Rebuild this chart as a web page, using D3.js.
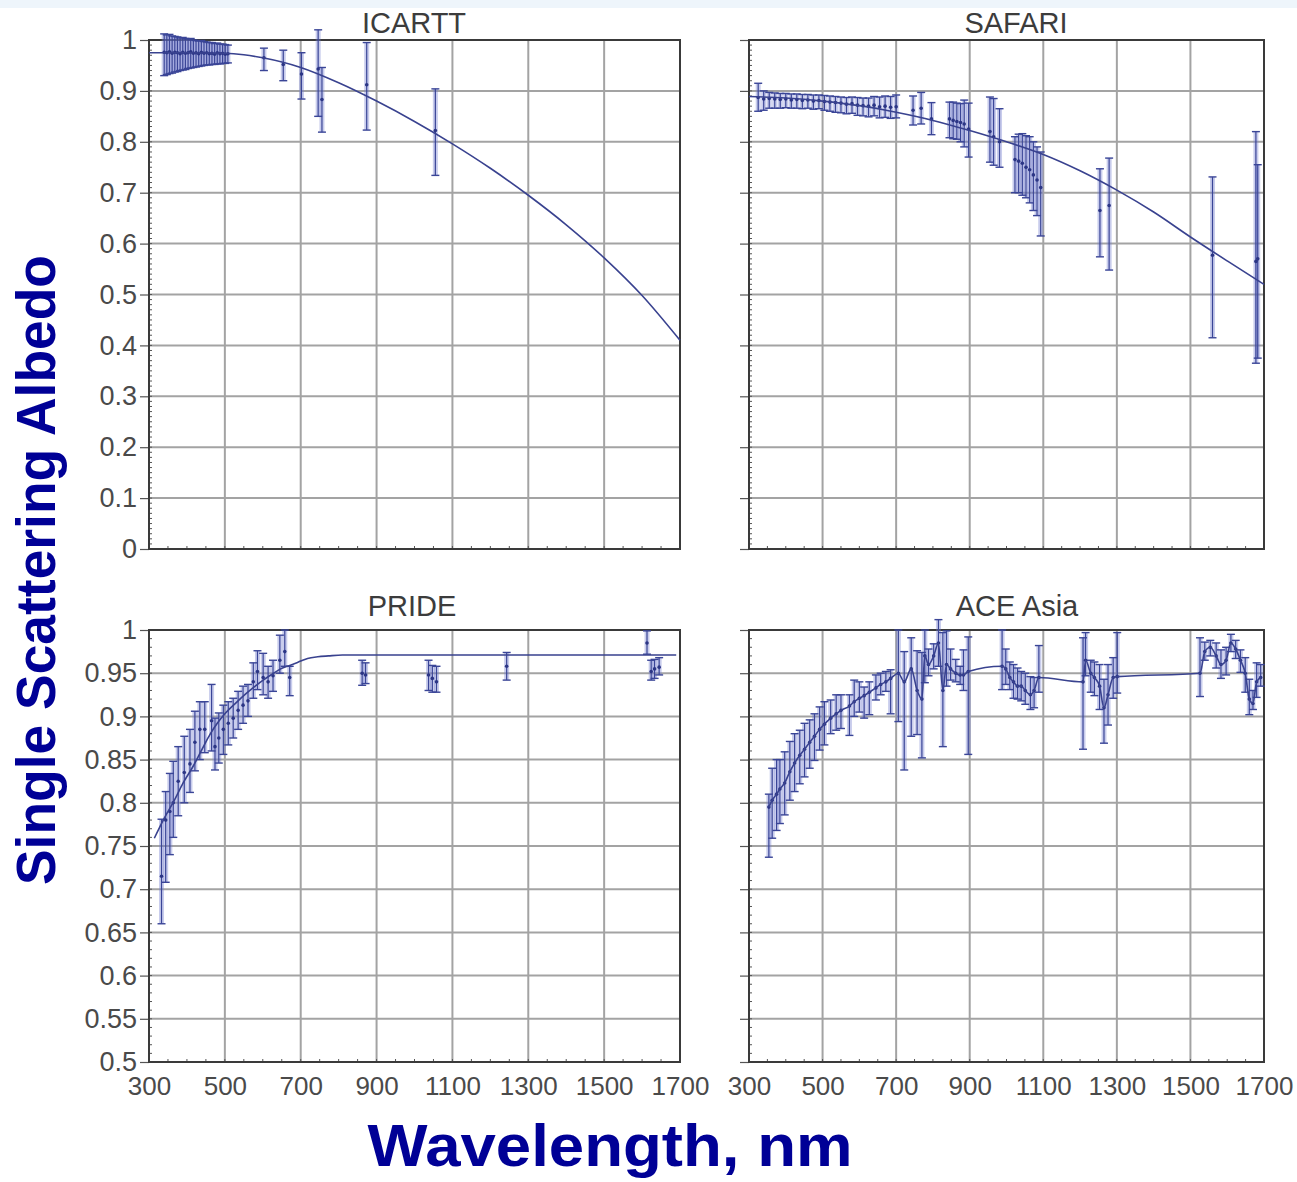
<!DOCTYPE html>
<html><head><meta charset="utf-8">
<script src="https://cdn.jsdelivr.net/npm/d3@7"></script>
<style>
body{margin:0;background:#fff}
text{font-family:"Liberation Sans",Arial,Helvetica,sans-serif}
</style>
</head><body>
<svg id="chart" width="1297" height="1182"></svg>
<script>
// ---------------- DATA ----------------
const xTickValues = [300,500,700,900,1100,1300,1500,1700];
const yTicksTop = [0,0.1,0.2,0.3,0.4,0.5,0.6,0.7,0.8,0.9,1];
const yTicksBottom = [0.5,0.55,0.6,0.65,0.7,0.75,0.8,0.85,0.9,0.95,1];
const panelTitles = ["ICARTT","SAFARI","PRIDE","ACE Asia"];

// ICARTT
const icarttWl  = [340,347,354,361,368,375,382,389,396,403,410,417,424,431,438,445,452,459,466,473,480,487,494,501,508,603,654,702,746,756,874,1055];
const icarttVal = [0.976,0.975,0.977,0.974,0.976,0.975,0.973,0.976,0.974,0.975,0.977,0.974,0.975,0.973,0.976,0.974,0.975,0.973,0.974,0.972,0.975,0.973,0.974,0.972,0.973,0.965,0.952,0.933,0.943,0.883,0.912,0.822];
const icarttLo  = [0.930,0.932,0.934,0.935,0.937,0.938,0.940,0.941,0.942,0.944,0.945,0.946,0.947,0.948,0.949,0.950,0.951,0.951,0.952,0.952,0.953,0.953,0.954,0.954,0.955,0.940,0.920,0.884,0.850,0.819,0.823,0.734];
const icarttHi  = [1.012,1.010,1.011,1.008,1.007,1.006,1.004,1.005,1.003,1.002,1.003,1.000,0.999,0.998,0.999,0.997,0.996,0.995,0.995,0.993,0.994,0.992,0.992,0.991,0.990,0.984,0.980,0.975,1.020,0.946,0.995,0.904];
const icarttFitWl  = [300,400,500,550,600,700,800,900,1000,1100,1200,1300,1400,1500,1600,1700];
const icarttFitVal = [0.975,0.975,0.974,0.971,0.965,0.946,0.916,0.880,0.840,0.796,0.748,0.695,0.637,0.572,0.498,0.41];

// SAFARI
const safariWl  = [325,340,355,370,385,400,415,430,445,460,475,490,505,520,535,550,565,580,595,610,625,640,655,670,685,700,746,768,796,845,855,865,875,885,897,955,965,981,1023,1033,1043,1053,1063,1073,1083,1093,1254,1279,1560,1678,1683];
const safariVal = [0.887,0.884,0.885,0.884,0.883,0.884,0.882,0.883,0.881,0.882,0.880,0.881,0.879,0.878,0.877,0.876,0.874,0.875,0.872,0.871,0.870,0.872,0.869,0.870,0.868,0.869,0.862,0.866,0.845,0.845,0.842,0.840,0.838,0.835,0.825,0.820,0.810,0.800,0.765,0.762,0.758,0.750,0.745,0.735,0.725,0.710,0.665,0.675,0.577,0.565,0.570];
const safariLo  = [0.860,0.862,0.866,0.866,0.866,0.867,0.866,0.866,0.865,0.866,0.864,0.865,0.862,0.860,0.858,0.857,0.855,0.856,0.852,0.851,0.849,0.851,0.847,0.848,0.846,0.847,0.833,0.835,0.814,0.808,0.806,0.805,0.800,0.790,0.770,0.760,0.754,0.750,0.700,0.700,0.695,0.690,0.680,0.665,0.655,0.615,0.574,0.548,0.415,0.365,0.375];
const safariHi  = [0.915,0.900,0.897,0.896,0.895,0.895,0.894,0.894,0.893,0.893,0.892,0.892,0.891,0.890,0.889,0.888,0.887,0.888,0.887,0.886,0.886,0.889,0.888,0.890,0.889,0.892,0.890,0.897,0.877,0.878,0.878,0.876,0.875,0.882,0.876,0.888,0.885,0.865,0.810,0.815,0.816,0.812,0.810,0.800,0.790,0.780,0.747,0.768,0.731,0.820,0.755];
const safariFitWl  = [300,400,500,600,700,800,900,1000,1100,1200,1300,1400,1500,1600,1700];
const safariFitVal = [0.889,0.886,0.880,0.871,0.858,0.842,0.822,0.800,0.775,0.743,0.705,0.662,0.613,0.566,0.520];

// PRIDE
const prideWl  = [333,344,355,364,377,393,408,421,434,447,465,474,484,496,509,522,535,548,561,575,586,601,614,627,645,658,671,862,871,1037,1047,1058,1243,1613,1624,1633,1645];
const prideVal = [0.715,0.780,0.790,0.800,0.825,0.835,0.845,0.870,0.885,0.885,0.895,0.865,0.875,0.885,0.892,0.898,0.907,0.913,0.918,0.940,0.952,0.945,0.940,0.947,0.965,0.975,0.945,0.950,0.948,0.948,0.944,0.940,0.958,0.985,0.952,0.955,0.957];
const prideLo  = [0.660,0.708,0.740,0.760,0.785,0.800,0.812,0.837,0.850,0.858,0.860,0.838,0.846,0.856,0.867,0.875,0.885,0.892,0.900,0.921,0.931,0.925,0.921,0.929,0.950,0.958,0.924,0.936,0.938,0.930,0.928,0.928,0.942,0.972,0.942,0.944,0.948];
const prideHi  = [0.781,0.813,0.834,0.848,0.865,0.877,0.885,0.906,0.917,0.917,0.937,0.898,0.904,0.913,0.917,0.921,0.929,0.935,0.937,0.962,0.976,0.973,0.958,0.965,0.994,1.000,0.958,0.965,0.962,0.965,0.959,0.958,0.974,0.999,0.965,0.966,0.968];
const prideFitWl  = [314,340,367,390,416,440,462,480,500,530,555,580,601,625,647,665,683,700,718,745,773,810,850,1000,1690];
const prideFitVal = [0.759,0.782,0.803,0.823,0.842,0.862,0.880,0.892,0.903,0.916,0.926,0.935,0.942,0.949,0.955,0.958,0.961,0.964,0.967,0.969,0.970,0.971,0.971,0.971,0.971];

// ACE Asia
const aceWl  = [354,363,375,384,397,411,424,438,451,465,478,492,505,522,537,550,573,586,600,613,627,645,658,672,685,706,722,741,757,770,778,788,802,815,827,837,848,862,874,883,896,988,998,1009,1019,1030,1040,1051,1065,1075,1088,1208,1215,1229,1239,1253,1265,1276,1290,1301,1526,1539,1554,1570,1583,1597,1610,1623,1636,1649,1660,1670,1680,1691];
const aceVal = [0.795,0.803,0.810,0.816,0.823,0.836,0.846,0.855,0.862,0.870,0.877,0.885,0.891,0.898,0.903,0.907,0.912,0.917,0.921,0.924,0.928,0.933,0.937,0.940,0.944,0.950,0.940,0.955,0.930,0.920,0.970,0.960,0.970,0.985,0.930,0.960,0.955,0.950,0.948,0.948,0.952,0.958,0.955,0.945,0.940,0.935,0.935,0.930,0.925,0.930,0.945,0.940,0.965,0.950,0.945,0.935,0.910,0.925,0.945,0.946,0.950,0.975,0.980,0.970,0.960,0.965,0.985,0.978,0.965,0.950,0.920,0.915,0.940,0.945];
const aceLo  = [0.737,0.759,0.768,0.776,0.786,0.803,0.813,0.822,0.830,0.840,0.849,0.861,0.867,0.880,0.884,0.886,0.878,0.900,0.905,0.898,0.902,0.919,0.925,0.929,0.903,0.894,0.838,0.877,0.879,0.852,0.939,0.947,0.955,0.958,0.865,0.935,0.942,0.940,0.937,0.930,0.856,0.931,0.937,0.931,0.921,0.920,0.918,0.914,0.908,0.910,0.928,0.862,0.947,0.928,0.924,0.908,0.869,0.890,0.921,0.927,0.923,0.965,0.970,0.956,0.944,0.948,0.975,0.967,0.951,0.928,0.902,0.908,0.922,0.935];
const aceHi  = [0.810,0.840,0.850,0.850,0.859,0.871,0.880,0.884,0.892,0.896,0.903,0.911,0.917,0.919,0.925,0.925,0.925,0.942,0.940,0.934,0.940,0.948,0.950,0.952,0.954,1.000,0.975,0.991,0.976,0.974,1.000,0.978,0.984,1.012,0.997,0.999,0.978,0.966,0.958,0.977,0.992,1.000,0.978,0.963,0.960,0.956,0.952,0.950,0.946,0.945,0.982,0.991,0.997,0.965,0.963,0.960,0.943,0.960,0.968,0.997,0.991,0.986,0.988,0.985,0.977,0.980,0.995,0.988,0.977,0.968,0.943,0.930,0.962,0.960];

// ---------------- LAYOUT ----------------
const svg = d3.select("#chart");
svg.append("rect").attr("x",0).attr("y",0).attr("width",1297).attr("height",8).attr("fill","#eef5fb");

const zip = (wl,v,lo,hi) => wl.map((w,i)=>({w, v:v[i], lo:lo[i], hi:hi[i]}));
const zipFit = (wl,v) => wl.map((w,i)=>({w, v:v[i]}));

const panels = [
  {title:panelTitles[0], tx:414, ty:33, x0:149,x1:680,y0:40,y1:549, dom:[0,1], ticks:yTicksTop, minor:0.01, yLabels:true, xLabels:false,
   data:zip(icarttWl,icarttVal,icarttLo,icarttHi), fit:zipFit(icarttFitWl,icarttFitVal)},
  {title:panelTitles[1], tx:1016, ty:33, x0:749,x1:1264,y0:40,y1:549, dom:[0,1], ticks:yTicksTop, minor:0.01, yLabels:false, xLabels:false,
   data:zip(safariWl,safariVal,safariLo,safariHi), fit:zipFit(safariFitWl,safariFitVal)},
  {title:panelTitles[2], tx:412, ty:616, x0:149,x1:680,y0:630,y1:1062, dom:[0.5,1], ticks:yTicksBottom, minor:0.01, yLabels:true, xLabels:true,
   data:zip(prideWl,prideVal,prideLo,prideHi), fit:zipFit(prideFitWl,prideFitVal)},
  {title:panelTitles[3], tx:1017, ty:616, x0:749,x1:1264,y0:630,y1:1062, dom:[0.5,1], ticks:yTicksBottom, minor:0.01, yLabels:false, xLabels:true,
   data:zip(aceWl,aceVal,aceLo,aceHi), fit:null}
];

const lineColor = "#39428f";
const barColor = "#3a4597";
const shadeColor = "rgba(110,122,205,0.38)";
const fmt = d => String(+d.toFixed(2));

panels.forEach(p => {
  const x = d3.scaleLinear().domain([300,1700]).range([p.x0,p.x1]);
  const y = d3.scaleLinear().domain(p.dom).range([p.y1,p.y0]);
  const g = svg.append("g");

  // grid
  g.append("g").selectAll("line").data(xTickValues).join("line")
    .attr("x1",d=>x(d)).attr("x2",d=>x(d)).attr("y1",p.y0).attr("y2",p.y1)
    .attr("stroke","#a3a3a3").attr("stroke-width",2);
  g.append("g").selectAll("line").data(p.ticks).join("line")
    .attr("x1",p.x0).attr("x2",p.x1).attr("y1",d=>y(d)).attr("y2",d=>y(d))
    .attr("stroke","#a3a3a3").attr("stroke-width",2);

  // minor ticks (inside)
  const minorY = d3.range(p.dom[0], p.dom[1]+1e-9, p.minor);
  g.append("g").selectAll("line").data(minorY).join("line")
    .attr("x1",p.x0).attr("x2",p.x0+3).attr("y1",d=>y(d)).attr("y2",d=>y(d))
    .attr("stroke","#555").attr("stroke-width",1);
  const minorX = d3.range(300,1701,50);
  g.append("g").selectAll("line").data(minorX).join("line")
    .attr("x1",d=>x(d)).attr("x2",d=>x(d)).attr("y1",p.y1).attr("y2",p.y1-3)
    .attr("stroke","#555").attr("stroke-width",1);

  // axes
  const yAxis = d3.axisLeft(y).tickValues(p.ticks).tickSize(9).tickSizeOuter(0).tickPadding(3)
    .tickFormat(p.yLabels ? fmt : "");
  const ya = g.append("g").attr("transform",`translate(${p.x0},0)`).call(yAxis);
  ya.select(".domain").remove();
  ya.selectAll(".tick line").attr("stroke","#555").attr("stroke-width",1.2);
  ya.selectAll(".tick text").attr("font-size",27).attr("fill","#4a4a4a")
    .attr("font-family",'"Liberation Sans",Arial,sans-serif');

  if (p.xLabels) {
    const xAxis = d3.axisBottom(x).tickValues(xTickValues).tickSize(0).tickSizeOuter(0).tickPadding(15).tickFormat(d3.format("d"));
    const xa = g.append("g").attr("transform",`translate(0,${p.y1})`).call(xAxis);
    xa.select(".domain").remove();
    xa.selectAll(".tick text").attr("font-size",26).attr("fill","#4a4a4a")
      .attr("font-family",'"Liberation Sans",Arial,sans-serif');
  }

  // frame
  g.append("rect").attr("x",p.x0).attr("y",p.y0).attr("width",p.x1-p.x0).attr("height",p.y1-p.y0)
    .attr("fill","none").attr("stroke","#3a3a3a").attr("stroke-width",2);

  // title
  g.append("text").attr("x",p.tx).attr("y",p.ty).attr("text-anchor","middle")
    .attr("font-size",29).attr("fill","#3c3c3c").text(p.title);

  // error bars
  const eb = g.append("g");
  eb.selectAll("rect").data(p.data).join("rect")
    .attr("x",d=>x(d.w)-2.5).attr("width",5)
    .attr("y",d=>y(d.hi)).attr("height",d=>y(d.lo)-y(d.hi))
    .attr("fill",shadeColor);
  eb.selectAll("line.v").data(p.data).join("line").attr("class","v")
    .attr("x1",d=>x(d.w)).attr("x2",d=>x(d.w)).attr("y1",d=>y(d.hi)).attr("y2",d=>y(d.lo))
    .attr("stroke",barColor).attr("stroke-width",1.2);
  eb.selectAll("line.ct").data(p.data).join("line").attr("class","ct")
    .attr("x1",d=>x(d.w)-4).attr("x2",d=>x(d.w)+4).attr("y1",d=>y(d.hi)).attr("y2",d=>y(d.hi))
    .attr("stroke",barColor).attr("stroke-width",1.4);
  eb.selectAll("line.cb").data(p.data).join("line").attr("class","cb")
    .attr("x1",d=>x(d.w)-4).attr("x2",d=>x(d.w)+4).attr("y1",d=>y(d.lo)).attr("y2",d=>y(d.lo))
    .attr("stroke",barColor).attr("stroke-width",1.4);

  // curve
  const line = d3.line().x(d=>x(d.w)).y(d=>y(d.v)).curve(d3.curveMonotoneX);
  g.append("path").datum(p.fit || p.data).attr("d",line)
    .attr("fill","none").attr("stroke",lineColor).attr("stroke-width",1.6);

  // centre points
  eb.selectAll("circle").data(p.data).join("circle")
    .attr("cx",d=>x(d.w)).attr("cy",d=>y(d.v)).attr("r",1.8).attr("fill","#2b3585");
});

// axis titles
svg.append("text").attr("transform","translate(55,570) rotate(-90)")
  .attr("text-anchor","middle").attr("font-size",56).attr("font-weight","bold")
  .attr("fill","#000096").attr("textLength",630).attr("lengthAdjust","spacingAndGlyphs")
  .text("Single Scattering Albedo");
svg.append("text").attr("x",610).attr("y",1166)
  .attr("text-anchor","middle").attr("font-size",60).attr("font-weight","bold")
  .attr("fill","#000096").attr("textLength",485).attr("lengthAdjust","spacingAndGlyphs")
  .text("Wavelength, nm");
</script>
</body></html>
